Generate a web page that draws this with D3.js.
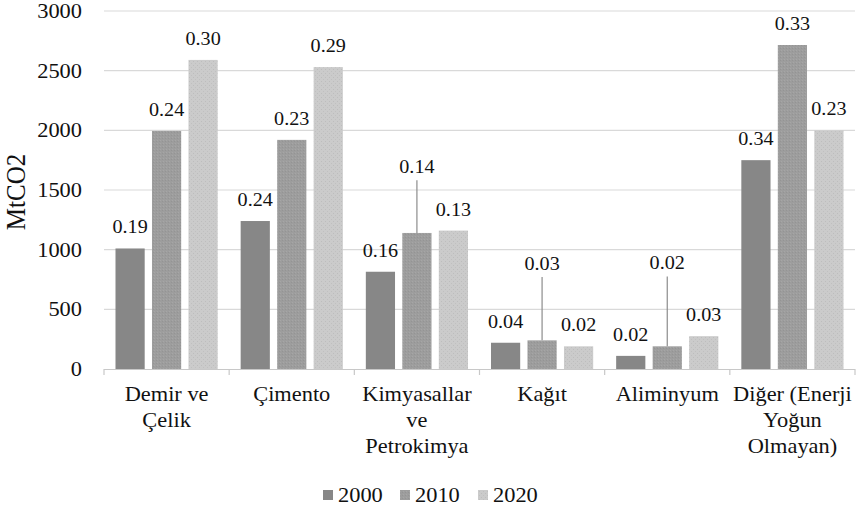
<!DOCTYPE html>
<html><head><meta charset="utf-8">
<script src="https://cdn.jsdelivr.net/npm/d3@7"></script>
<style>html,body{margin:0;padding:0;background:#fff;}svg{display:block;font-family:"Liberation Serif","Times New Roman",serif;}svg text{font-family:"Liberation Serif","Times New Roman",serif;}</style>
</head><body>
<svg id="c" width="858" height="513"></svg>
<script>
const categories = [["Demir ve","Çelik"],["Çimento"],["Kimyasallar","ve","Petrokimya"],["Kağıt"],["Aliminyum"],["Diğer (Enerji","Yoğun","Olmayan)"]];
const years = ["2000","2010","2020"];
const values2000 = [1010, 1240, 815, 220, 110, 1750];
const values2010 = [1995, 1920, 1140, 240, 190, 2715];
const values2020 = [2590, 2530, 1160, 190, 275, 2000];
const shares2000 = ["0.19","0.24","0.16","0.04","0.02","0.34"];
const shares2010 = ["0.24","0.23","0.14","0.03","0.02","0.33"];
const shares2020 = ["0.30","0.29","0.13","0.02","0.03","0.23"];
// label positions (in MtCO2 units) for labels placed with leader lines; null = directly above bar
const labelAt2010 = [null, null, 1690, 880, 885, null];
const yTicks = [0, 500, 1000, 1500, 2000, 2500, 3000];

const series = [
  {year: years[0], values: values2000, shares: shares2000, labelAt: [null,null,null,null,null,null], fill: "#878787"},
  {year: years[1], values: values2010, shares: shares2010, labelAt: labelAt2010, fill: "url(#p2010)"},
  {year: years[2], values: values2020, shares: shares2020, labelAt: [null,null,null,null,null,null], fill: "url(#p2020)"}
];

const svg = d3.select("#c");
const FONT = '"Liberation Serif", "Times New Roman", serif';
const SX = 1.12;

const defs = svg.append("defs");
const p1 = defs.append("pattern").attr("id","p2010").attr("patternUnits","userSpaceOnUse").attr("width",3).attr("height",3);
p1.append("rect").attr("width",3).attr("height",3).attr("fill","#9d9d9d");
p1.append("rect").attr("x",0).attr("y",0).attr("width",1).attr("height",1).attr("fill","#949494");
p1.append("rect").attr("x",1).attr("y",2).attr("width",1).attr("height",1).attr("fill","#a6a6a6");
const p2 = defs.append("pattern").attr("id","p2020").attr("patternUnits","userSpaceOnUse").attr("width",4).attr("height",4);
p2.append("rect").attr("width",4).attr("height",4).attr("fill","#cbcbcb");
p2.append("rect").attr("x",1).attr("y",1).attr("width",1).attr("height",1).attr("fill","#bdbdbd");
p2.append("rect").attr("x",3).attr("y",3).attr("width",1).attr("height",1).attr("fill","#c0c0c0");

const x = d3.scaleBand().domain(d3.range(categories.length)).range([104, 855]).paddingInner(0).paddingOuter(0);
const xs = d3.scaleBand().domain(years).range([0, x.bandwidth()]).paddingInner(0.2).paddingOuter(0.315);
const y = d3.scaleLinear().domain([0, 3000]).range([369, 11]);

function txt(g, px, py, str, anchor, size, fill) {
  return g.append("text")
    .attr("transform", `translate(${px},${py}) scale(${SX},1)`)
    .attr("text-anchor", anchor)
    .style("font-family", FONT)
    .style("font-size", size + "px")
    .attr("fill", fill || "#111")
    .text(str);
}

// gridlines
const grid = svg.append("g");
yTicks.filter(t => t > 0).forEach(t => {
  grid.append("line").attr("x1", 104).attr("x2", 855).attr("y1", y(t)).attr("y2", y(t))
    .attr("stroke", "#d9d9d9").attr("stroke-width", 1.2);
});
// y tick labels
yTicks.forEach(t => txt(svg, 82, y(t) + 7, String(t), "end", 20));

// y title
svg.append("text")
  .attr("transform", `translate(25,192) rotate(-90) scale(1,1.1)`)
  .attr("text-anchor", "middle")
  .style("font-family", FONT).style("font-size", "25px").attr("fill", "#111")
  .text("MtCO2");

// bars
const bars = svg.append("g");
series.forEach(s => {
  s.values.forEach((v, i) => {
    bars.append("rect")
      .attr("x", x(i) + xs(s.year))
      .attr("y", y(v))
      .attr("width", xs.bandwidth())
      .attr("height", y(0) - y(v))
      .attr("fill", s.fill);
  });
});

// x axis
svg.append("line").attr("x1", 104).attr("x2", 855).attr("y1", y(0) + 0.5).attr("y2", y(0) + 0.5)
  .attr("stroke", "#c8c8c8").attr("stroke-width", 1.2);
d3.range(categories.length + 1).forEach(i => {
  const xx = i < categories.length ? x(i) : x(categories.length - 1) + x.bandwidth();
  svg.append("line").attr("x1", xx).attr("x2", xx).attr("y1", y(0)).attr("y2", y(0) + 6)
    .attr("stroke", "#c8c8c8").attr("stroke-width", 1.2);
});

// value labels
const lab = svg.append("g");
series.forEach(s => {
  s.values.forEach((v, i) => {
    const cx = x(i) + xs(s.year) + xs.bandwidth() / 2;
    const la = s.labelAt[i];
    let cy;
    if (la == null) {
      cy = y(v) - 21;
    } else {
      cy = y(la);
      lab.append("line").attr("x1", cx).attr("x2", cx).attr("y1", cy + 13).attr("y2", y(v))
        .attr("stroke", "#8c8c8c").attr("stroke-width", 1.2);
    }
    txt(lab, cx, cy + 6, s.shares[i], "middle", 18);
  });
});

// category labels
categories.forEach((lines, i) => {
  const cx = x(i) + x.bandwidth() / 2;
  lines.forEach((l, k) => txt(svg, cx, 401 + k * 26, l, "middle", 20));
});

// legend
const legendItems = [
  {year: years[0], fill: "#878787", x: 323},
  {year: years[1], fill: "url(#p2010)", x: 400},
  {year: years[2], fill: "url(#p2020)", x: 478}
];
legendItems.forEach(d => {
  svg.append("rect").attr("x", d.x).attr("y", 490).attr("width", 10).attr("height", 10).attr("fill", d.fill);
  txt(svg, d.x + 15, 502, d.year, "start", 20);
});
</script>
</body></html>
